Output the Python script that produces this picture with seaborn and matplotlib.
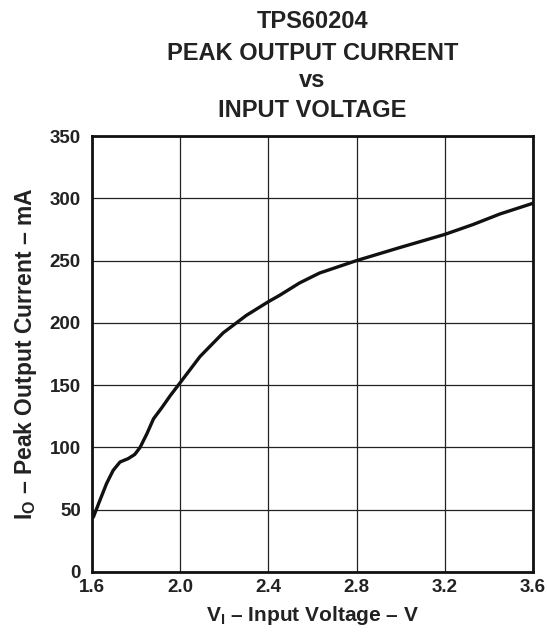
import matplotlib
matplotlib.use("Agg")
import matplotlib.pyplot as plt
import seaborn as sns
import pandas as pd

# curve
voltage = [1.606, 1.636, 1.666, 1.696, 1.727, 1.764, 1.794, 1.818, 1.849, 1.879,
           1.917, 1.955, 2.00, 2.09, 2.195, 2.30, 2.40, 2.45, 2.541, 2.632,
           2.80, 2.995, 3.20, 3.329, 3.45, 3.60]
current = [44, 57.6, 71, 81.6, 88.3, 91, 94.4, 100, 111, 123,
           132, 141.6, 152, 173, 192, 206, 217, 222, 232, 240,
           250, 260.4, 271, 279, 287.4, 296]
x_ticks = [1.6, 2.0, 2.4, 2.8, 3.2, 3.6]
y_ticks = [0, 50, 100, 150, 200, 250, 300, 350]
title_lines = ["TPS60204", "PEAK OUTPUT CURRENT", "vs", "INPUT VOLTAGE"]

df = pd.DataFrame({"V": voltage, "I": current})

sns.set_style("white")
plt.rcParams["font.family"] = ["Liberation Sans", "DejaVu Sans"]
plt.rcParams["font.weight"] = "bold"
plt.rcParams["mathtext.fontset"] = "custom"
plt.rcParams["mathtext.rm"] = "Liberation Sans:bold"
plt.rcParams["mathtext.it"] = "Liberation Sans:bold"
plt.rcParams["mathtext.bf"] = "Liberation Sans:bold"

W, H = 547, 634
fig = plt.figure(figsize=(W / 100, H / 100), dpi=100)
ax = fig.add_axes([92 / W, 1 - 572 / H, (533 - 92) / W, (572 - 136) / H])

sns.lineplot(data=df, x="V", y="I", color="#111111", linewidth=2.4, ax=ax)

ax.set_xlim(1.6, 3.6)
ax.set_ylim(0, 350)
ax.set_xticks(x_ticks)
ax.set_xticklabels([f"{t:.1f}" for t in x_ticks])
ax.set_yticks(y_ticks)
ax.grid(True, color="#222222", linewidth=0.9)
for s in ax.spines.values():
    s.set_color("#111111")
    s.set_linewidth(2.0)
ax.tick_params(axis="both", length=0, labelsize=13.5, colors="#222222")
ax.tick_params(axis="y", pad=8)
ax.tick_params(axis="x", pad=5)
for lab in ax.get_xticklabels() + ax.get_yticklabels():
    lab.set_fontweight("bold")

ax.set_xlabel(r"$\mathrm{V_I}$ – Input Voltage – V", fontsize=15, fontweight="bold",
              color="#222222", labelpad=6)
ax.set_ylabel(r"$\mathrm{I_O}$ – Peak Output Current – mA", fontsize=16.5, fontweight="bold",
              color="#222222", labelpad=8)

# title, one line at a time
baselines = [28, 60, 87, 117]
xc = (92 + 533) / 2 / W
for line, yb in zip(title_lines, baselines):
    fig.text(xc, 1 - yb / H, line, ha="center", va="baseline",
             fontsize=17, fontweight="bold", color="#222222")

fig.savefig("out.png", dpi=100)
